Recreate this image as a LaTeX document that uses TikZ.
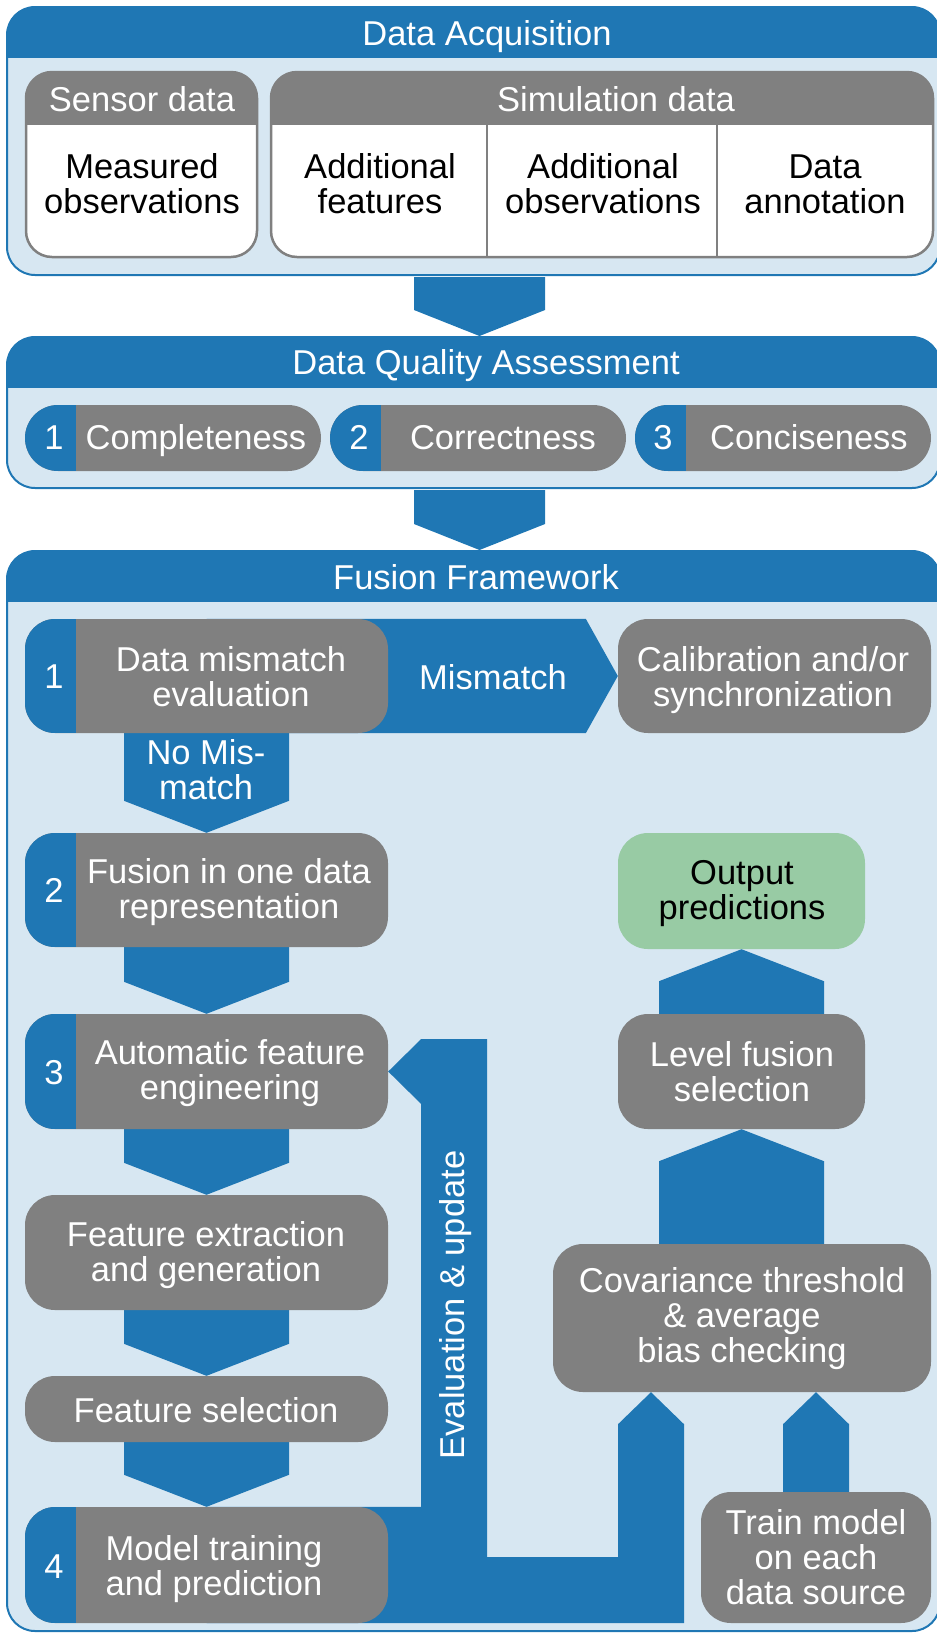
\documentclass[tikz,border=0pt]{standalone}
\usepackage{fontspec}
\setmainfont{Liberation Sans}
\usetikzlibrary{calc}
\pgfdeclarelayer{back}
\pgfdeclarelayer{mid}
\pgfsetlayers{back,mid,main}
\definecolor{fblue}{RGB}{31,119,180}
\definecolor{flight}{RGB}{215,231,242}
\definecolor{fgray}{RGB}{128,128,128}
\definecolor{fgreen}{RGB}{152,203,164}
\newcommand\lbfont{\fontsize{34.5}{35}\selectfont}
% symmetric strut so that a label's centre sits on the middle of its capitals
\newcommand\lbstrut{\vrule height 32pt depth 7.5pt width 0pt}
% block arrows: from node, to node, x offset of the shaft, half width, head length, shift of the tail
\newcommand\flowdown[6]{%
  \fill[flow] ($(#1.south -| #2.north)+(#3-#4,#6)$) -- ($(#2.north)+(#3-#4,-#5)$)
    -- ($(#2.north)+(#3,0)$) -- ($(#2.north)+(#3+#4,-#5)$)
    -- ($(#1.south -| #2.north)+(#3+#4,#6)$) -- cycle;}
\newcommand\flowup[6]{%
  \fill[flow] ($(#1.north -| #2.south)+(#3-#4,#6)$) -- ($(#2.south)+(#3-#4,#5)$)
    -- ($(#2.south)+(#3,0)$) -- ($(#2.south)+(#3+#4,#5)$)
    -- ($(#1.north -| #2.south)+(#3+#4,#6)$) -- cycle;}
\begin{document}
\begin{tikzpicture}[x=1pt,y=-1pt,
  panel/.style={draw=fblue, line width=2pt, fill=flight, rounded corners=28pt, inner sep=0pt,
    path picture={\fill[fblue, sharp corners] (path picture bounding box.north west)
      rectangle ([yshift=-51pt]path picture bounding box.north east);}},
  flow/.style={fill=fblue},
  gbox/.style={fill=fgray, rounded corners=30pt, inner sep=0pt},
  numbox/.style={gbox, path picture={\fill[fblue, sharp corners] (path picture bounding box.south west)
      rectangle ([xshift=51pt]path picture bounding box.north west);}},
  pill/.style={numbox, rounded corners=33pt, minimum width=296pt, minimum height=66pt},
  greenbox/.style={fill=fgreen, rounded corners=30pt, inner sep=0pt},
  srcbox/.style={fill=white, draw=fgray, line width=2.5pt, rounded corners=26pt, inner sep=0pt,
    minimum height=185pt,
    path picture={\fill[fgray, sharp corners] (path picture bounding box.north west)
      rectangle ([yshift=-53pt]path picture bounding box.north east);}},
  lbl/.style={text=white, font=\lbfont, align=center, inner sep=0pt,
    execute at begin node=\lbstrut, execute at end node=\lbstrut},
  dlbl/.style={lbl, text=black},
]
\useasboundingbox (0,0) rectangle (937,1634);

% the three stage panels
\begin{pgfonlayer}{back}
\node[panel, minimum width=933pt, minimum height=268pt] (acq) at (473.5,141) {};
\node[panel, minimum width=933pt, minimum height=151pt] (dqa) at (473.5,412.5) {};
\node[panel, minimum width=933pt, minimum height=1080pt] (fus) at (473.5,1091) {};
\end{pgfonlayer}
\node[lbl] (tacq) at (487,33) {Data Acquisition};
\node[lbl] (tdqa) at (486,362) {Data Quality Assessment};
\node[lbl] (tfus) at (476,577) {Fusion Framework};

% data sources
\node[srcbox, minimum width=231pt] (sen) at (141.5,164.5) {};
\node[srcbox, minimum width=662pt] (sim) at (602,164.5) {};
\draw[fgray, line width=2.5pt] ($(sim.north west)+(217,53)$) -- ($(sim.south west)+(217,0)$);
\draw[fgray, line width=2.5pt] ($(sim.north west)+(447,53)$) -- ($(sim.south west)+(447,0)$);
\node[lbl] (lsen) at (142,99) {Sensor data};
\node[lbl] (lsim) at (616,99) {Simulation data};
\node[dlbl] (lmea) at (142,187.5) {Measured\\observations};
\node[dlbl] (ladf) at (380,187.5) {Additional\\features};
\node[dlbl] (lado) at (603,187.5) {Additional\\observations};
\node[dlbl] (lann) at (825,187.5) {Data\\annotation};

% quality criteria
\node[pill] (q1) at (173,438) {};
\node[pill] (q2) at (478,438) {};
\node[pill] (q3) at (783,438) {};
\node[lbl] (nq1) at (54,437) {1};
\node[lbl] (nq2) at (359,437) {2};
\node[lbl] (nq3) at (663,437) {3};
\node[lbl] (lq1) at (196,437) {Completeness};
\node[lbl] (lq2) at (503,437) {Correctness};
\node[lbl] (lq3) at (809,437) {Conciseness};

% fusion steps
\node[numbox, minimum width=363pt, minimum height=114pt] (s1) at (206.5,676) {};
\node[numbox, minimum width=363pt, minimum height=114pt] (s2) at (206.5,890) {};
\node[numbox, minimum width=363pt, minimum height=115pt] (s3) at (206.5,1071.5) {};
\node[gbox, minimum width=363pt, minimum height=115pt] (fe) at (206.5,1252.5) {};
\node[gbox, minimum width=363pt, minimum height=66pt] (fs) at (206.5,1409) {};
\node[numbox, minimum width=363pt, minimum height=116pt] (s4) at (206.5,1565) {};
\node[gbox, minimum width=313pt, minimum height=114pt] (cal) at (774.5,676) {};
\node[greenbox, minimum width=247pt, minimum height=116pt] (out) at (741.5,891) {};
\node[gbox, minimum width=247pt, minimum height=115pt] (lev) at (741.5,1071.5) {};
\node[gbox, minimum width=378pt, minimum height=148pt] (cov) at (742,1318) {};
\node[gbox, minimum width=230pt, minimum height=131pt] (trn) at (816,1557.5) {};

\node[lbl] (n1) at (54,676) {1};
\node[lbl] (n2) at (54,890) {2};
\node[lbl] (n3) at (54,1072) {3};
\node[lbl] (n4) at (54,1566) {4};
\node[lbl] (ls1) at (231,680.5) {Data mismatch\\evaluation};
\node[lbl] (ls2) at (229,892.5) {Fusion in one data\\representation};
\node[lbl] (ls3) at (230,1073.5) {Automatic feature\\engineering};
\node[lbl] (lfe) at (206,1255.5) {Feature extraction\\and generation};
\node[lbl] (lfs) at (206,1410) {Feature selection};
\node[lbl] (ls4) at (214,1569.5) {Model training\\and prediction};
\node[lbl] (lcal) at (773,680.5) {Calibration and/or\\synchronization};
\node[dlbl] (lout) at (742,893.5) {Output\\predictions};
\node[lbl] (llev) at (742,1075.5) {Level fusion\\selection};
\node[lbl] (lcov) at (742,1318.5) {Covariance threshold\\\& average\\bias checking};
\node[lbl] (ltrn) at (816,1560.5) {Train model\\on each\\data source};

% block arrows
\begin{pgfonlayer}{mid}
\flowdown{acq}{dqa}{6}{65.5}{26}{1}
\flowdown{dqa}{fus}{6}{65.5}{26}{1}
\flowdown{s1}{s2}{0}{82.5}{32}{-6}
\flowdown{s2}{s3}{0}{82.5}{32}{-6}
\flowdown{s3}{fe}{0}{82.5}{32}{-6}
\flowdown{fe}{fs}{0}{82.5}{32}{-6}
\flowdown{fs}{s4}{0}{82.5}{32}{-6}
\flowup{cov}{lev}{0}{82.5}{32}{6}
\flowup{lev}{out}{0}{82.5}{32}{6}
\flowup{trn}{cov}{74}{33}{32}{6}
% mismatch branch
\coordinate (mh) at ($(cal.west)+(-32,0)$);
\fill[flow] (s1.north) -- (mh |- s1.north) -- (cal.west) -- (mh |- s1.south) -- (s1.south) -- cycle;
% evaluation feedback loop
\coordinate (fbtip) at ($(cov.south)+(-91,0)$);
\coordinate (fbl) at ($(s3.east)+(33,32.5)$);
\coordinate (fbr) at ($(fbtip)+(33,32)$);
\fill[flow] (s3.east) -- ($(s3.east)+(33,-32.5)$) -- ($(s3.east)+(99,-32.5)$)
  -- ($(s4.east)+(99,-8)$) -- ($(fbtip)+(-33,165)$) -- ($(fbtip)+(-33,32)$)
  -- (fbtip) -- (fbr) -- (fbr |- s4.south) -- (s4.south) -- (s4.north)
  -- (fbl |- s4.north) -- (fbl) -- cycle;
\end{pgfonlayer}
\node[lbl] (lmis) at (493,677) {Mismatch};
\node[lbl] (lnom) at (206,773.5) {No Mis-\\match};
\node[lbl, rotate=90] (lev2) at (452,1305) {Evaluation \& update};
\end{tikzpicture}
\end{document}
